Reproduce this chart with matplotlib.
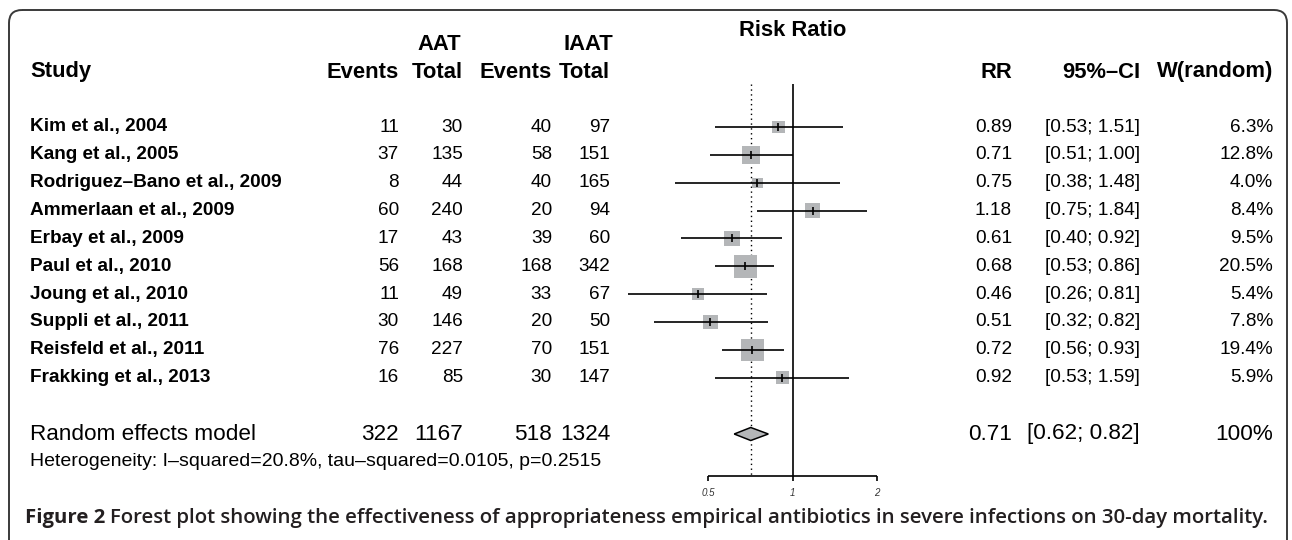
import matplotlib
matplotlib.use("Agg")
import matplotlib.pyplot as plt
from matplotlib.patches import FancyBboxPatch, Polygon
import numpy as np

# ---- data ----
studies = ["Kim et al., 2004", "Kang et al., 2005", "Rodriguez\u2013Bano et al., 2009",
           "Ammerlaan et al., 2009", "Erbay et al., 2009", "Paul et al., 2010",
           "Joung et al., 2010", "Suppli et al., 2011", "Reisfeld et al., 2011",
           "Frakking et al., 2013"]
aat_events = [11, 37, 8, 60, 17, 56, 11, 30, 76, 16]
aat_total = [30, 135, 44, 240, 43, 168, 49, 146, 227, 85]
iaat_events = [40, 58, 40, 20, 39, 168, 33, 20, 70, 30]
iaat_total = [97, 151, 165, 94, 60, 342, 67, 50, 151, 147]
rr = [0.89, 0.71, 0.75, 1.18, 0.61, 0.68, 0.46, 0.51, 0.72, 0.92]
ci_lo = [0.53, 0.51, 0.38, 0.75, 0.40, 0.53, 0.26, 0.32, 0.56, 0.53]
ci_hi = [1.51, 1.00, 1.48, 1.84, 0.92, 0.86, 0.81, 0.82, 0.93, 1.59]
weight = [6.3, 12.8, 4.0, 8.4, 9.5, 20.5, 5.4, 7.8, 19.4, 5.9]

pooled_rr, pooled_lo, pooled_hi = 0.71, 0.62, 0.82
pooled_counts = [322, 1167, 518, 1324]
pooled_weight = "100%"
het_text = "Heterogeneity: I\u2013squared=20.8%, tau\u2013squared=0.0105, p=0.2515"
axis_ticks = [0.5, 1, 2]
caption_head = "Figure 2"
caption_body = ("Forest plot showing the effectiveness of appropriateness empirical "
                "antibiotics in severe infections on 30-day mortality.")

# ---- layout (pixels, y downwards) ----
W, H = 1292, 540
X_ONE = 792.5          # pixel of RR = 1
PX_PER_DOUBLING = 84.5
ROW0, ROW_STEP = 127, 27.85
Y_POOLED, Y_HET = 434, 461
Y_AXIS, Y_TICKLAB = 476, 493
Y_CAPTION = 518

COL_AAT_EV, COL_AAT_TOT = 399, 463
COL_IAAT_EV, COL_IAAT_TOT = 552, 610
COL_RR, COL_CI, COL_W = 1012, 1140, 1273
X_STUDY = 30

FS_ROW, FS_HEAD, FS_POOL, FS_HET, FS_CAP = 13.7, 15.8, 16.2, 14, 14.7

plt.rcParams["font.family"] = ["Liberation Sans", "DejaVu Sans"]

fig = plt.figure(figsize=(W / 100, H / 100), dpi=100)
tx = fig.add_axes([0, 0, 1, 1])
tx.set_xlim(0, W)
tx.set_ylim(H, 0)
tx.axis("off")

ax = fig.add_axes([0, 0, 1, 1])
ax.set_xscale("log", base=2)
ax.set_xlim(2 ** (-X_ONE / PX_PER_DOUBLING), 2 ** ((W - X_ONE) / PX_PER_DOUBLING))
ax.set_ylim(H, 0)
ax.axis("off")
ax.patch.set_alpha(0)

# rounded frame (bottom runs off the image)
frame = FancyBboxPatch((9, 10), 1278, 580, boxstyle="round,pad=0,rounding_size=13",
                       fc="none", ec="#3a3a3a", lw=1.4)
tx.add_patch(frame)

# headers
tx.text(X_STUDY, 72, "Study", fontsize=FS_HEAD, weight="bold", va="center")
for x, s in [(COL_AAT_EV, "Events"), (COL_AAT_TOT, "Total"),
             (COL_IAAT_EV, "Events"), (COL_IAAT_TOT, "Total"),
             (COL_RR, "RR"), (COL_CI, "95%\u2013CI"), (COL_W, "W(random)")]:
    tx.text(x, 72, s, fontsize=FS_HEAD, weight="bold", ha="right", va="center")
tx.text(439, 44, "AAT", fontsize=FS_HEAD, weight="bold", ha="center", va="center")
tx.text(588, 44, "IAAT", fontsize=FS_HEAD, weight="bold", ha="center", va="center")
tx.text(X_ONE, 31, "Risk Ratio", fontsize=FS_HEAD, weight="bold", ha="center", va="center")

# study rows
ys = ROW0 + ROW_STEP * np.arange(len(studies))
for i, y in enumerate(ys):
    tx.text(X_STUDY, y, studies[i], fontsize=FS_ROW, weight="bold", va="center")
    for x, v in [(COL_AAT_EV, aat_events[i]), (COL_AAT_TOT, aat_total[i]),
                 (COL_IAAT_EV, iaat_events[i]), (COL_IAAT_TOT, iaat_total[i])]:
        tx.text(x, y, str(v), fontsize=FS_ROW, ha="right", va="center")
    tx.text(COL_RR, y, f"{rr[i]:.2f}", fontsize=FS_ROW, ha="right", va="center")
    tx.text(COL_CI, y, f"[{ci_lo[i]:.2f}; {ci_hi[i]:.2f}]", fontsize=FS_ROW,
            ha="right", va="center")
    tx.text(COL_W, y, f"{weight[i]:.1f}%", fontsize=FS_ROW, ha="right", va="center")

# forest marks
ax.hlines(ys, ci_lo, ci_hi, color="black", lw=1.2, zorder=3)
side_pt = 5.1 * np.sqrt(weight) * 0.72
ax.scatter(rr, ys, marker="s", s=side_pt ** 2, color="#b4b6b8", edgecolors="none",
           zorder=2)
ax.scatter(rr, ys, marker="|", s=36, color="black", linewidths=1.2, zorder=4)

# reference lines
ax.vlines(1, 84, Y_AXIS, color="black", lw=1.2, zorder=1)
ax.vlines(pooled_rr, 84, Y_AXIS, color="black", lw=1.0, linestyles=(0, (1, 2.5)), zorder=1)

# pooled row
tx.text(X_STUDY, Y_POOLED, "Random effects model", fontsize=FS_POOL, va="center")
for x, v in zip([COL_AAT_EV, COL_AAT_TOT, COL_IAAT_EV, COL_IAAT_TOT], pooled_counts):
    tx.text(x, Y_POOLED, str(v), fontsize=FS_POOL, ha="right", va="center")
tx.text(COL_RR, Y_POOLED, f"{pooled_rr:.2f}", fontsize=FS_POOL, ha="right", va="center")
tx.text(COL_CI, Y_POOLED, f"[{pooled_lo:.2f}; {pooled_hi:.2f}]", fontsize=FS_POOL,
        ha="right", va="center")
tx.text(COL_W, Y_POOLED, pooled_weight, fontsize=FS_POOL, ha="right", va="center")
diamond = Polygon([(pooled_lo, Y_POOLED), (pooled_rr, Y_POOLED - 6.5),
                   (pooled_hi, Y_POOLED), (pooled_rr, Y_POOLED + 6.5)],
                  closed=True, fc="#b4b6b8", ec="black", lw=1.1, zorder=5)
ax.add_patch(diamond)
tx.text(X_STUDY, Y_HET, het_text, fontsize=FS_HET, va="center")

# x axis
ax.hlines(Y_AXIS, axis_ticks[0], axis_ticks[-1], color="black", lw=1.2)
ax.vlines(axis_ticks, Y_AXIS, Y_AXIS + 5, color="black", lw=1.2)
for t in axis_ticks:
    ax.text(t, Y_TICKLAB, f"{t:g}", fontsize=7, style="italic", color="#333333",
            ha="center", va="center")

# caption: bold label followed by the title text
cap = tx.text(25, Y_CAPTION, caption_head + " ", fontsize=FS_CAP, weight="bold",
              family="Open Sans", va="center", color="#231f20")
fig.canvas.draw()
x_end = cap.get_window_extent().x1  # figure pixels == tx data x here
tx.text(x_end, Y_CAPTION, caption_body, fontsize=FS_CAP, weight="semibold",
        family="Open Sans", va="center", color="#231f20")

fig.savefig("out.png", dpi=100)
